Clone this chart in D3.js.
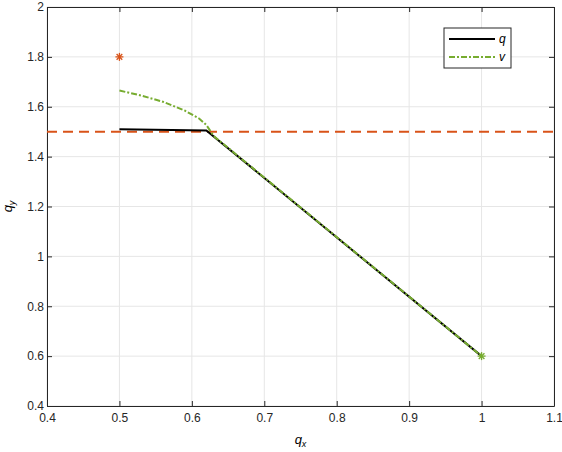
<!doctype html>
<meta charset="utf-8">
<script src="https://d3js.org/d3.v7.min.js"></script>
<style>body{margin:0;background:#fff}text{font-family:"Liberation Sans",Arial,sans-serif}</style>
<body>
<script>
// data
const qX = [0.5, 0.62, 1.0];
const qY = [1.51, 1.505, 0.6];
const vX = [0.5, 0.53, 0.56, 0.59, 0.61, 0.62, 0.63, 1.0];
const vY = [1.665, 1.645, 1.62, 1.585, 1.553, 1.527, 1.483, 0.6];
const refY = 1.5;
const startPt = [0.5, 1.8];
const endPt = [1.0, 0.6];
const xTicks = [0.4, 0.5, 0.6, 0.7, 0.8, 0.9, 1, 1.1];
const yTicks = [0.4, 0.6, 0.8, 1, 1.2, 1.4, 1.6, 1.8, 2];

const W = 562, H = 452, m = {l: 47, r: 8, t: 7, b: 46};
const svg = d3.select("body").append("svg").attr("width", W).attr("height", H);
const x = d3.scaleLinear().domain([0.4, 1.1]).range([m.l, W - m.r]);
const y = d3.scaleLinear().domain([0.4, 2]).range([H - m.b, m.t]);

// grid
svg.append("g").selectAll("line").data(xTicks).join("line")
  .attr("x1", d => x(d)).attr("x2", d => x(d)).attr("y1", m.t).attr("y2", H - m.b)
  .attr("stroke", "#e6e6e6");
svg.append("g").selectAll("line").data(yTicks).join("line")
  .attr("y1", d => y(d)).attr("y2", d => y(d)).attr("x1", m.l).attr("x2", W - m.r)
  .attr("stroke", "#e6e6e6");

const fmt = d => d3.format("~g")(d);
const ax = svg.append("g").attr("transform", `translate(0,${H - m.b})`)
  .call(d3.axisBottom(x).tickValues(xTicks).tickFormat(fmt).tickSizeInner(-5).tickSizeOuter(0));
const ay = svg.append("g").attr("transform", `translate(${m.l},0)`)
  .call(d3.axisLeft(y).tickValues(yTicks).tickFormat(fmt).tickSizeInner(-5).tickSizeOuter(0));
const axT = svg.append("g").attr("transform", `translate(0,${m.t})`)
  .call(d3.axisTop(x).tickValues(xTicks).tickFormat("").tickSizeInner(-5).tickSizeOuter(0));
const ayR = svg.append("g").attr("transform", `translate(${W - m.r},0)`)
  .call(d3.axisRight(y).tickValues(yTicks).tickFormat("").tickSizeInner(-5).tickSizeOuter(0));
[ax, ay, axT, ayR].forEach(g => {
  g.selectAll("path,line").attr("stroke", "#262626");
  g.selectAll("text").attr("fill", "#262626").attr("font-size", 12);
});
ax.selectAll("text").attr("dy", "1.1em");

svg.append("text").attr("x", (m.l + W - m.r) / 2).attr("y", H - 8)
  .attr("text-anchor", "middle").attr("font-family", "DejaVu Serif").attr("font-style", "italic")
  .attr("font-size", 13).html('q<tspan font-size="9" dy="3">x</tspan>');
svg.append("text").attr("transform", `translate(12,${(m.t + H - m.b) / 2}) rotate(-90)`)
  .attr("text-anchor", "middle").attr("font-family", "DejaVu Serif").attr("font-style", "italic")
  .attr("font-size", 13).html('q<tspan font-size="9" dy="3">y</tspan>');

// reference line
svg.append("line").attr("x1", m.l).attr("x2", W - m.r).attr("y1", y(refY)).attr("y2", y(refY))
  .attr("stroke", "#d95319").attr("stroke-width", 2).attr("stroke-dasharray", "10,6");

const line = d3.line().x(d => x(d[0])).y(d => y(d[1]));
svg.append("path").attr("d", line(qX.map((d, i) => [d, qY[i]])))
  .attr("fill", "none").attr("stroke", "#000").attr("stroke-width", 2);
svg.append("path").attr("d", line(vX.map((d, i) => [d, vY[i]])))
  .attr("fill", "none").attr("stroke", "#77ac30").attr("stroke-width", 2).attr("stroke-dasharray", "6,2,2,2");

function star(p, c) {
  const g = svg.append("g").attr("transform", `translate(${x(p[0])},${y(p[1])})`)
    .attr("stroke", c).attr("stroke-width", 1.3);
  [0, 45, 90, 135].forEach(a => g.append("line").attr("x1", -4).attr("x2", 4)
    .attr("transform", `rotate(${a})`));
}
star(startPt, "#d95319");
star(endPt, "#77ac30");

// legend
const lg = svg.append("g").attr("transform", "translate(444,28)");
lg.append("rect").attr("width", 67).attr("height", 40).attr("fill", "#fff").attr("stroke", "#262626");
[["q", "#000", null], ["v", "#77ac30", "6,2,2,2"]].forEach((s, i) => {
  lg.append("line").attr("x1", 5).attr("x2", 51).attr("y1", 11 + i * 18).attr("y2", 11 + i * 18)
    .attr("stroke", s[1]).attr("stroke-width", 2).attr("stroke-dasharray", s[2]);
  lg.append("text").attr("x", 55).attr("y", 15 + i * 18).attr("font-family", "DejaVu Serif")
    .attr("font-style", "italic").attr("font-size", 12).text(s[0]);
});
</script>
</body>
